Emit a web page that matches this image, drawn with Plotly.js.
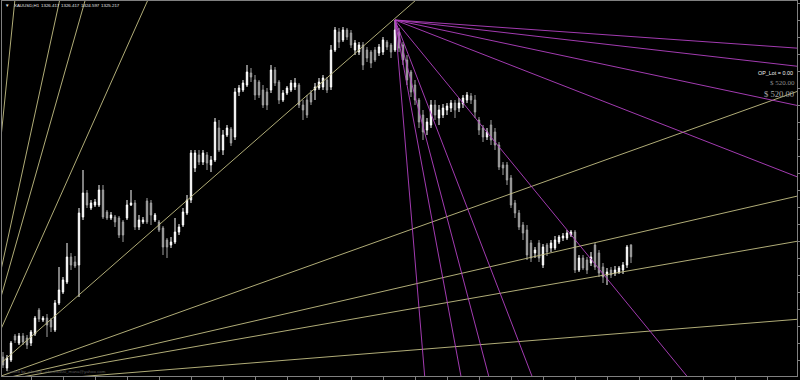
<!DOCTYPE html>
<html>
<head>
<meta charset="utf-8">
<script src="https://cdn.plot.ly/plotly-3.0.1.min.js"></script>
<style>
  html, body { margin: 0; padding: 0; background: #000; }
  #chart { width: 800px; height: 380px; }
</style>
</head>
<body>
<div id="chart"></div>
<script>
// XAUUSD H1 candles (prices)
const openP = [
1315.2,1314.1,1314.9,1317.3,1316.6,1317.3,1317.1,1316.6,1317.5,1319.9,
1318.9,1319.1,1318.9,1317.9,1320.6,1321.7,1322.7,1325.2,1324.7,1324.4,
1329.2,1331.6,1330.1,1330.4,1330.4,1331.9,1329.7,1329.1,1329.2,1329.1,
1328.7,1329.1,1330.4,1330.6,1328.2,1328.7,1330.8,1330.6,1328.9,1328.7,
1328.1,1326.9,1326.4,1326.7,1327.7,1328.4,1329.6,1330.9,1334.1,1335.4,
1334.7,1335.4,1334.4,1334.9,1338.1,1335.9,1337.4,1338.0,1337.2,1341.7,
1341.9,1342.4,1343.6,1342.9,1342.7,1341.9,1341.7,1341.9,1343.9,1342.7,
1340.9,1341.6,1341.9,1342.2,1342.4,1340.4,1340.9,1341.6,1341.9,1342.1,
1342.2,1342.9,1342.2,1345.9,1347.7,1346.9,1347.9,1347.6,1345.9,1345.7,
1346.4,1345.9,1345.7,1345.9,1345.6,1345.7,1346.7,1346.4,1345.9,1347.7,
1346.4,1344.9,1343.7,1342.4,1340.9,1339.4,1337.9,1338.4,1340.4,1339.1,
1339.4,1339.9,1340.1,1340.6,1340.1,1340.5,1340.9,1341.3,1340.9,1338.9,
1338.1,1337.2,1338.4,1337.7,1336.4,1334.4,1334.4,1333.1,1330.6,1329.6,
1328.4,1327.9,1326.6,1325.6,1326.6,1324.4,1326.4,1326.1,1326.1,1326.7,
1327.1,1327.1,1327.4,1327.7,1323.9,1325.1,1324.9,1324.6,1326.4,1325.6,
1324.2,1323.4,1323.9,1323.6,1323.7,1323.9,1324.4,1326.417
];
const highP = [
1315.7,1315.4,1316.8,1317.5,1317.6,1317.6,1317.4,1317.9,1319.3,1320.1,
1319.3,1319.5,1319.1,1320.9,1324.2,1323.2,1326.6,1325.6,1325.3,1330.1,
1333.9,1331.9,1330.9,1331.0,1332.4,1332.4,1329.9,1329.7,1329.4,1329.3,
1328.9,1330.9,1331.9,1330.9,1329.4,1329.2,1331.1,1330.9,1329.6,1328.9,
1328.3,1327.1,1327.2,1329.1,1328.5,1330.1,1331.4,1335.9,1335.9,1335.9,
1335.9,1335.7,1335.3,1339.1,1338.9,1337.9,1338.4,1338.2,1342.1,1342.4,
1342.9,1344.4,1344.1,1343.4,1342.9,1342.4,1342.1,1344.4,1344.2,1342.9,
1341.9,1342.3,1342.9,1343.1,1342.6,1340.9,1341.4,1341.9,1342.6,1343.1,
1343.4,1343.2,1346.4,1348.2,1348.1,1348.2,1348.1,1347.9,1346.9,1346.7,
1346.7,1346.2,1345.9,1346.2,1346.5,1347.2,1346.9,1346.6,1348.9,1348.1,
1346.7,1345.4,1343.9,1342.9,1341.1,1339.9,1339.1,1340.9,1340.9,1340.4,
1340.5,1340.6,1340.9,1340.9,1341.1,1341.4,1341.7,1341.6,1341.4,1339.2,
1338.4,1338.1,1338.9,1338.1,1336.7,1334.7,1334.7,1333.4,1330.9,1329.9,
1328.7,1328.4,1326.9,1326.2,1326.9,1326.5,1326.6,1326.9,1327.3,1327.4,
1327.6,1327.9,1327.9,1327.9,1325.4,1325.4,1325.2,1325.7,1326.6,1325.9,
1324.6,1324.1,1324.2,1324.3,1324.3,1324.7,1326.4,1326.417
];
const lowP = [
1314.1,1313.8,1314.7,1316.6,1316.4,1316.4,1316.0,1316.3,1317.3,1318.7,
1318.7,1317.2,1317.7,1317.7,1320.4,1321.5,1322.5,1323.9,1324.1,1321.2,
1328.9,1330.1,1329.9,1330.2,1330.2,1329.0,1328.9,1328.9,1328.2,1327.1,
1326.7,1328.9,1330.3,1327.9,1327.9,1328.5,1328.5,1328.4,1328.7,1327.7,
1325.4,1325.1,1326.1,1326.5,1327.4,1328.2,1329.4,1330.6,1333.7,1334.4,
1334.4,1333.9,1333.7,1334.7,1335.7,1335.4,1337.2,1336.3,1336.9,1341.3,
1341.7,1342.2,1342.7,1340.9,1341.1,1340.1,1339.9,1341.6,1342.3,1340.5,
1340.7,1341.4,1341.7,1341.9,1340.1,1338.9,1339.1,1340.4,1340.9,1341.9,
1341.9,1341.6,1341.9,1345.7,1346.1,1346.7,1346.9,1346.1,1345.4,1345.4,
1343.9,1344.7,1344.1,1344.7,1345.3,1345.4,1345.9,1345.1,1345.7,1345.7,
1344.4,1342.4,1341.2,1340.4,1338.1,1336.9,1337.4,1338.1,1338.9,1338.4,
1339.1,1339.4,1339.7,1339.1,1339.7,1340.1,1340.6,1340.5,1339.1,1337.4,
1336.7,1336.9,1336.4,1335.9,1333.9,1333.4,1332.4,1330.1,1329.1,1327.9,
1326.9,1324.9,1324.7,1325.1,1324.7,1324.1,1325.3,1325.7,1325.9,1326.5,
1326.8,1326.9,1327.2,1323.6,1323.7,1323.9,1323.5,1324.3,1323.9,1323.2,
1322.6,1322.4,1323.1,1323.3,1323.5,1323.5,1324.1,1324.597
];
const closeP = [
1314.4,1315.1,1316.6,1316.9,1317.3,1316.7,1316.4,1317.7,1319.1,1319.0,
1319.1,1318.4,1318.2,1320.6,1321.9,1322.9,1325.2,1324.4,1324.3,1329.6,
1331.6,1330.4,1330.6,1330.7,1331.9,1329.2,1329.1,1329.4,1328.7,1327.4,
1327.4,1330.4,1330.6,1328.2,1328.9,1328.9,1328.7,1329.4,1329.4,1327.9,
1326.2,1326.2,1326.7,1327.7,1328.2,1329.7,1330.9,1335.6,1335.6,1334.7,
1335.6,1334.6,1334.9,1338.7,1335.9,1337.4,1338.1,1336.6,1341.7,1342.1,
1342.6,1343.7,1343.2,1341.4,1341.4,1340.4,1340.4,1343.9,1342.6,1340.9,
1341.6,1342.1,1342.6,1342.6,1340.4,1339.9,1339.4,1340.7,1342.2,1342.7,
1343.1,1341.9,1345.9,1347.9,1346.7,1347.9,1347.2,1346.4,1346.6,1346.4,
1344.4,1345.1,1344.6,1344.9,1346.2,1346.9,1346.2,1345.7,1347.9,1346.1,
1344.9,1342.9,1341.7,1340.9,1338.7,1337.7,1338.7,1340.4,1339.4,1339.9,
1340.1,1340.3,1340.6,1339.9,1340.6,1341.1,1341.4,1340.9,1339.7,1337.9,
1337.2,1337.7,1336.9,1336.4,1334.2,1334.1,1332.9,1330.4,1329.6,1328.2,
1327.6,1325.4,1325.1,1325.9,1325.1,1326.2,1325.7,1326.6,1326.9,1327.2,
1327.3,1327.6,1327.7,1323.9,1325.1,1324.1,1323.9,1325.2,1324.2,1323.6,
1323.2,1323.7,1323.4,1323.9,1324.1,1324.4,1326.2,1325.217
];
const barIndex = openP.map((_, i) => i);

// Gann fans: anchor (bar, price) and slopes in price per bar
const fanUpOrigin = [-6.75, 1312.4];
const fanUpSlopes = [0.032, 0.07, 0.092, 0.143, 0.35, 0.896, 1.41, 1.84, 3.96];
const fanDownOrigin = [98, 1348.9];
const fanDownSlopes = [-0.028, -0.046, -0.085, -0.156, -0.488, -1.04, -1.52, -2.16, -4.8];

// header and label texts
const symbolText = 'XAUUSD,H1';
const quoteTexts = ['1326.417', '1326.417', '1324.597', '1325.217'];
const lotText = 'OP_Lot = 0.00';
const profitTexts = ['$ 520.00', '$ 520.00'];
const creditText = 'Coded by  ahmed   ahmed400_mana@yahoo.com';

const X_RANGE = [-0.25, 198.5];
const Y_RANGE = [1313.3, 1350.8];

function fanTraces(origin, slopes, color) {
  return slopes.map(s => ({
    type: 'scatter', mode: 'lines',
    x: [origin[0], X_RANGE[1]],
    y: [origin[1], origin[1] + s * (X_RANGE[1] - origin[0])],
    line: { color: color, width: 0.9 },
    hoverinfo: 'skip', showlegend: false
  }));
}

const candles = {
  type: 'candlestick',
  x: barIndex, open: openP, high: highP, low: lowP, close: closeP,
  increasing: { line: { color: '#ffffff', width: 1 }, fillcolor: '#ffffff' },
  decreasing: { line: { color: '#a0a0a0', width: 1 }, fillcolor: '#a0a0a0' },
  whiskerwidth: 0,
  hoverinfo: 'none', showlegend: false
};

const traces = [
  ...fanTraces(fanUpOrigin, fanUpSlopes, '#c4c084'),
  ...fanTraces(fanDownOrigin, fanDownSlopes, '#b442c4'),
  candles
];

// plot area spans page pixels x 2..797, y 1..376
const PL = 2, PR = 797, PT = 1, PB = 376;
const px = x => (x - PL) / (PR - PL);
const py = y => (PB - y) / (PB - PT);

function label(text, x, y, size, color, family, anchor) {
  return {
    text: text, xref: 'paper', yref: 'paper', x: px(x), y: py(y),
    xanchor: anchor || 'left', yanchor: 'middle', showarrow: false,
    font: { size: size, color: color, family: family || 'Liberation Sans, Arial, sans-serif' }
  };
}

const quoteX = [39, 59, 79, 99];
const annotations = [
  label('▼', 3, 6, 4.5, '#e0e0e0'),
  label(symbolText, 12, 6, 4.4, '#e4e4e4'),
  ...quoteTexts.map((t, i) => label(t, quoteX[i], 6, 4.4, '#e4e4e4')),
  label(lotText, 795, 73, 5.4, '#f2f2f2', null, 'right'),
  label(profitTexts[0], 797, 83, 7, '#8e8e8e', 'Liberation Serif, Times New Roman, serif', 'right'),
  label(profitTexts[1], 796, 94, 8.6, '#a8a8a8', 'Liberation Serif, Times New Roman, serif', 'right'),
  label(creditText, 5, 371, 4.4, '#5a5a5a')
];

const layout = {
  width: 800, height: 380,
  margin: { l: PL, r: 800 - PR, t: PT, b: 380 - PB, pad: 0 },
  paper_bgcolor: '#000000', plot_bgcolor: '#000000',
  showlegend: false,
  boxgap: 0.5,
  xaxis: {
    type: 'linear', range: X_RANGE, fixedrange: true,
    rangeslider: { visible: false },
    showgrid: false, zeroline: false, showticklabels: false,
    showline: true, mirror: true, linecolor: '#808080', linewidth: 1,
    ticks: 'outside', ticklen: 3, tickcolor: '#808080',
    tickmode: 'linear', tick0: 7, dtick: 8
  },
  yaxis: {
    range: Y_RANGE, fixedrange: true, side: 'right',
    showgrid: false, zeroline: false, showticklabels: false,
    showline: true, mirror: true, linecolor: '#808080', linewidth: 1,
    ticks: 'outside', ticklen: 3, tickcolor: '#808080',
    tickmode: 'linear', tick0: 1316.6, dtick: 1.7
  },
  annotations: annotations
};

Plotly.newPlot('chart', traces, layout, { staticPlot: true, displayModeBar: false });
</script>
</body>
</html>
